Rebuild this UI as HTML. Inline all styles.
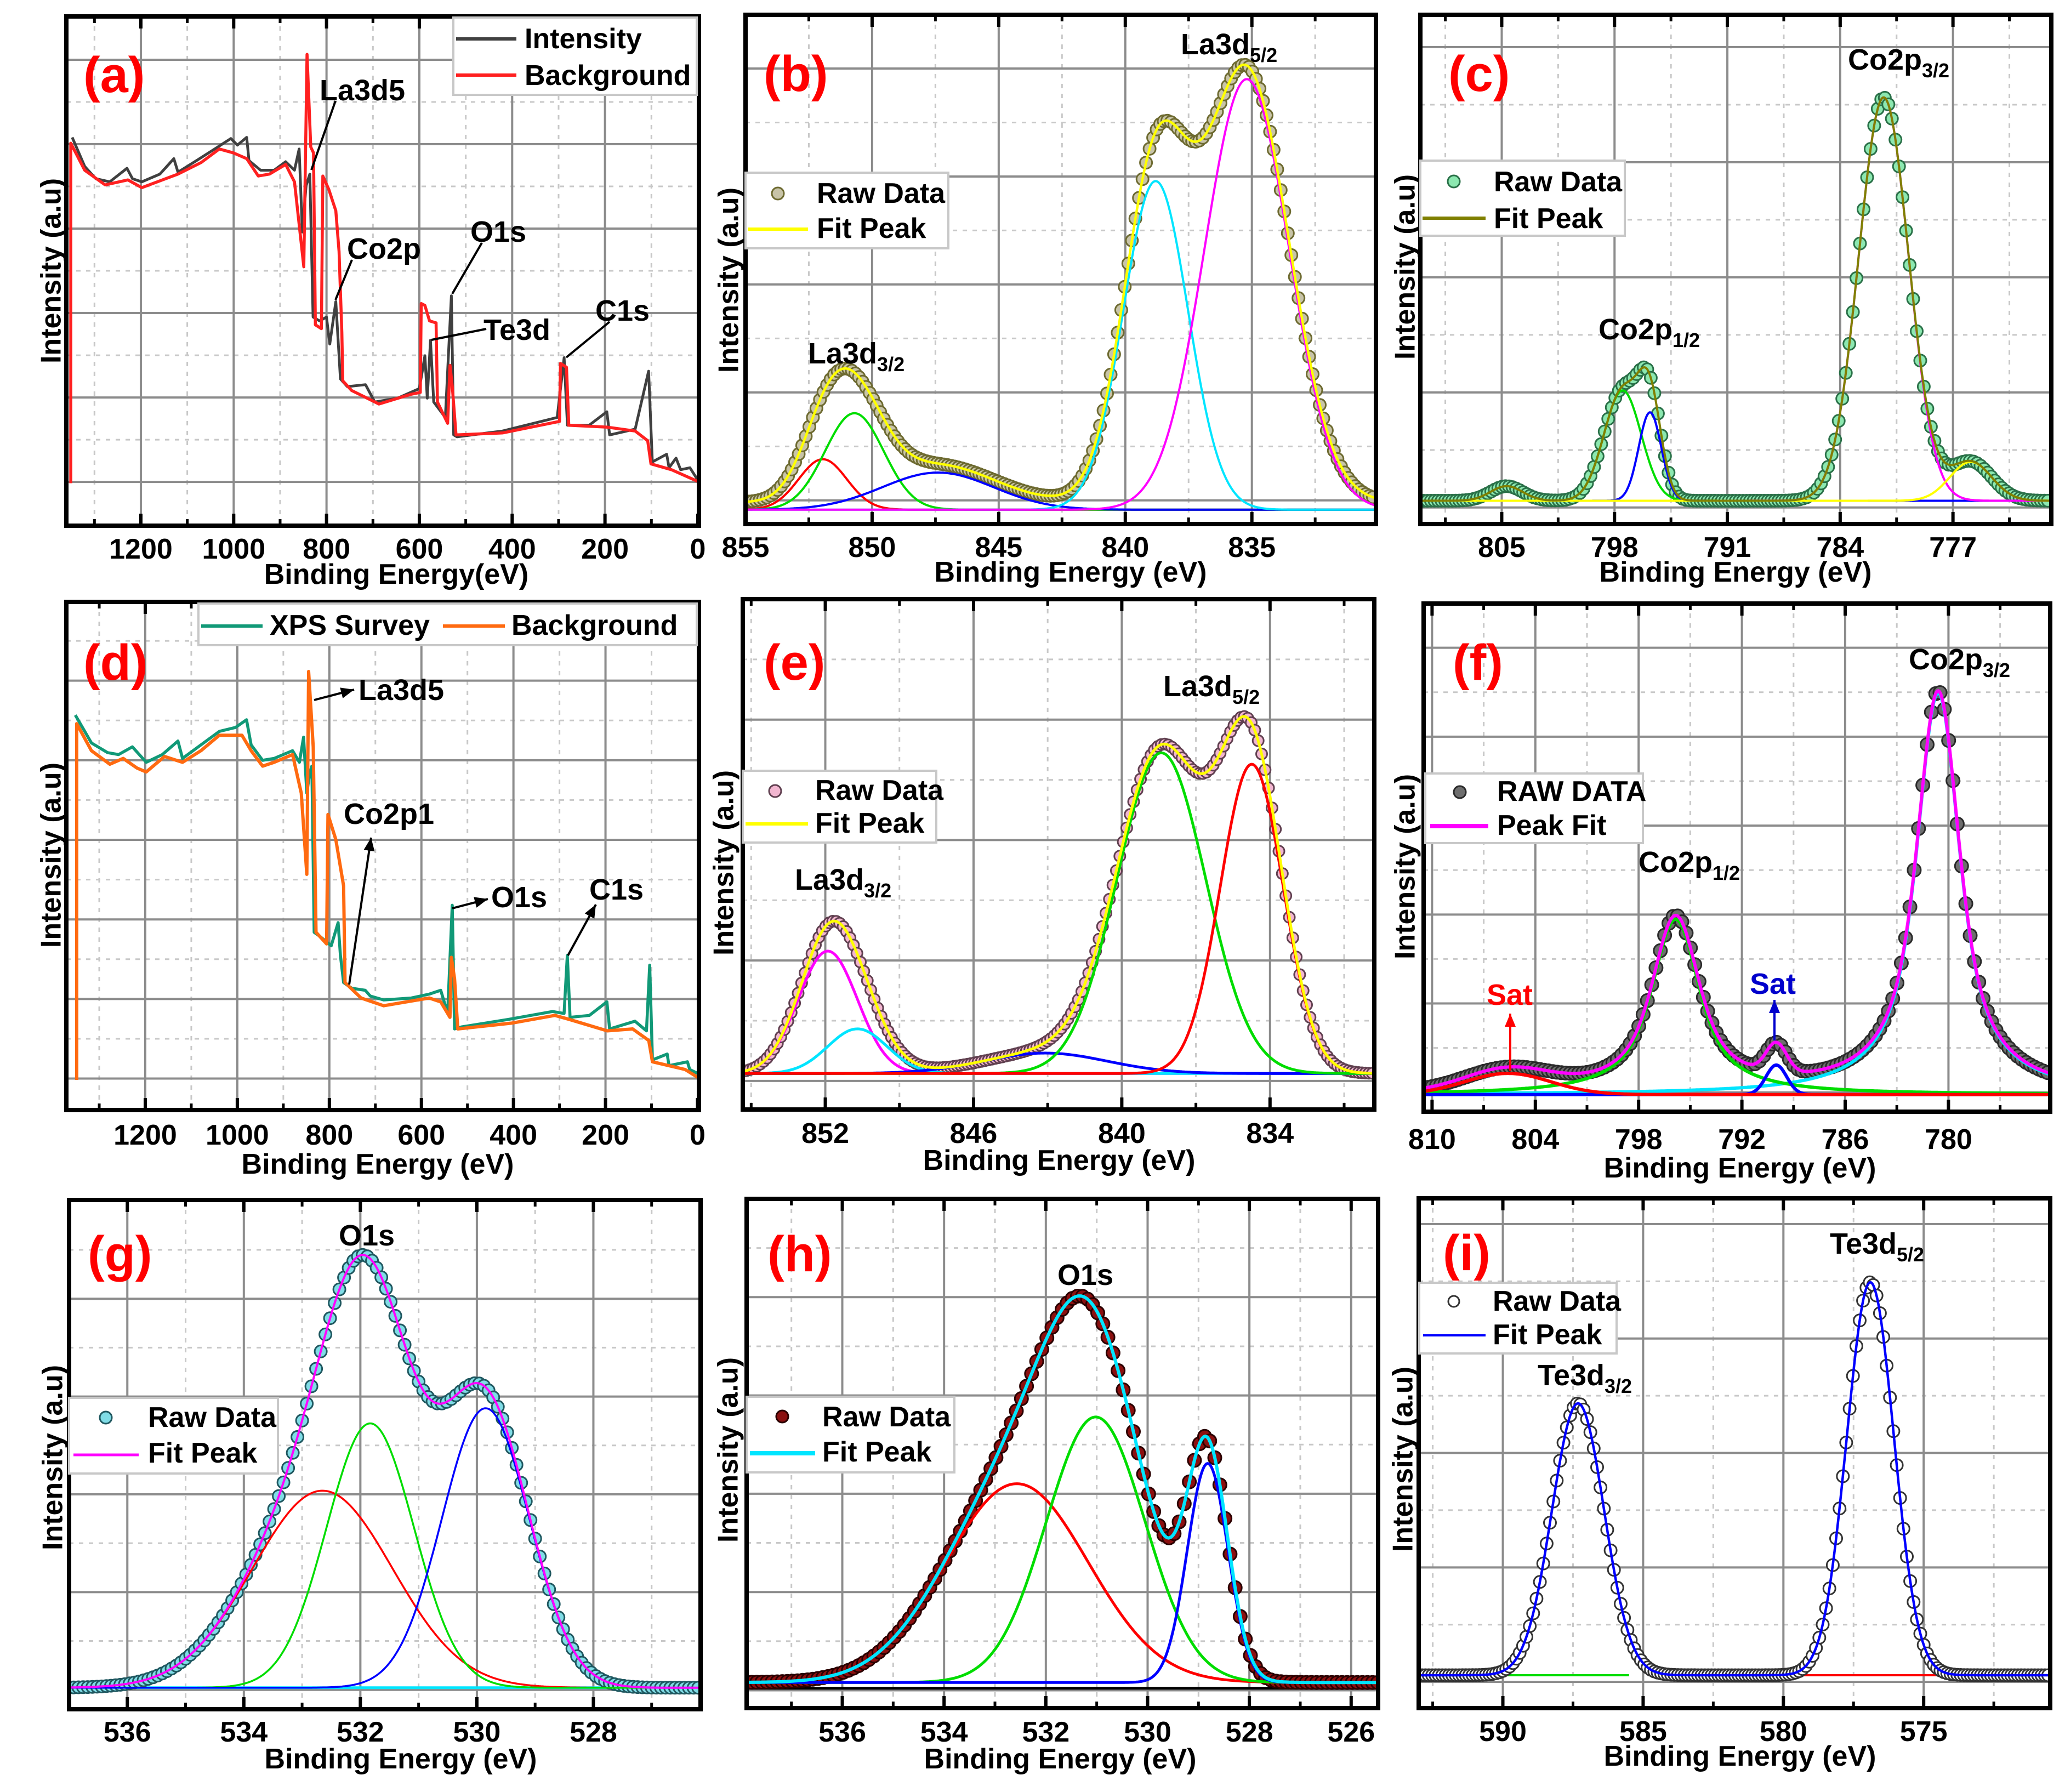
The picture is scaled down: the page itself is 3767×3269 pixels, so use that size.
<!DOCTYPE html>
<html><head><meta charset="utf-8">
<style>
html,body{margin:0;padding:0;background:#fff}
svg{display:block}
text{font-family:"Liberation Sans",Arial,sans-serif;font-weight:bold;fill:#000}
</style></head>
<body>
<svg id="fig" xmlns="http://www.w3.org/2000/svg" width="3767" height="3269" viewBox="0 0 3767 3269">
<rect width="3767" height="3269" fill="#ffffff"/>
</svg>
<script>
// ---------------- DATA ----------------
// Panel (a) survey
const aEnergy=[1348,1321,1297,1267,1230,1218,1198,1159,1129,1120,1080,1041,1006,992,972,967,942,913,888,869,859,852,844,836,829,815,800,793,780,770,755,716,696,647,600,588,583,576,569,544,531,526,519,421,303,288,281,234,196,190,135,106,98,67,62,47,37,17,1];
const aIntensity=[1005,930,898,890,925,898,890,910,950,915,945,975,1002,985,1005,945,920,920,942,920,975,760,880,910,540,530,540,470,580,380,360,365,320,330,355,440,330,480,320,280,595,235,230,245,280,435,260,260,295,235,250,400,165,185,150,175,145,150,120];
const aBgEnergy=[1351,1351,1321,1277,1228,1198,1120,1070,1031,1001,972,947,923,888,869,849,842,834,828,824,811,808,795,780,773,767,765,746,687,618,598,596,588,578,564,561,539,534,529,521,421,298,296,283,278,194,135,108,101,57,1];
const aBgIntensity=[110,990,920,882,895,875,910,940,975,965,950,905,910,935,890,670,1220,980,965,520,510,905,870,815,710,500,375,350,315,340,345,575,570,530,525,320,265,415,360,235,240,270,420,410,260,255,245,220,160,145,115];
// Panel (d) survey
const dEnergy=[1352,1317,1282,1258,1228,1198,1163,1129,1119,1079,1039,1004,980,970,945,920,880,865,856,849,843,838,833,821,796,781,776,769,751,722,711,682,622,583,558,543,533,528,513,409,315,290,283,277,235,197,191,136,111,104,98,66,62,22,17,0];
const dIntensity=[1022,950,925,920,940,900,920,955,910,945,980,990,1010,945,905,910,930,900,965,820,870,890,460,450,425,485,400,330,315,310,295,285,290,300,310,250,530,210,215,235,255,250,400,240,245,280,210,230,205,375,130,145,115,125,105,95];
const dBgEnergy=[1349,1349,1317,1277,1248,1218,1198,1158,1119,1079,1039,990,970,945,920,880,861,849,845,835,829,806,803,786,769,766,731,682,583,558,538,535,528,521,404,310,280,196,141,106,98,27,0];
const dBgIntensity=[78,1000,930,895,910,885,875,915,900,930,970,970,930,890,900,920,820,610,1135,940,460,430,765,700,580,330,290,270,290,280,240,395,340,210,225,245,235,205,210,180,125,105,85];
const surveyTicks=[1200,1000,800,600,400,200,0];
const surveyTickLabels=['1200','1000','800','600','400','200','0'];

// Panel (b) La3d
const bCenters=[851.95,850.7,847.4,838.8,835.2];
const bHeights=[10.2,19.5,7.5,66.4,87];
const bWidths=[0.95,1.16,2.2,1.28,1.67];
const bTicks=[855,850,845,840,835];
const bTickLabels=['855','850','845','840','835'];
// Panel (c) Co2p
const cCenters=[797.5,795.8,781.3,775.9,804.7];
const cHeights=[22.7,18.2,83,8,3];
const cWidths=[1.15,0.7,1.55,1.3,1.0];
const cTicks=[805,798,791,784,777];
const cTickLabels=['805','798','791','784','777'];
// Panel (e) La3d
const eCenters=[851.9,850.7,843.1,838.4,834.74];
const eHeights=[25.8,9.4,4.3,67.6,65.2];
const eWidths=[1.2,1.2,2.5,1.8,1.27];
const eTicks=[852,846,840,834];
const eTickLabels=['852','846','840','834'];
// Panel (f) Co2p (pseudo-Voigt)
const fCenters=[780.6,795.85,790.0,805.6];
const fHeights=[81.8,35.7,6,4.3];
const fWidths=[1.0,1.1,0.6,2.5];
const fGammas=[1.8,2.0,0.5,1];
const fEtas=[0.7,0.7,0,0];
const fTicks=[810,804,798,792,786,780];
const fTickLabels=['810','804','798','792','786','780'];
// Panel (g) O1s
const gCenters=[532.65,531.83,529.85];
const gHeights=[40.4,54.2,57.3];
const gWidths=[1.2,0.75,0.75];
const gTicks=[536,534,532,530,528];
const gTickLabels=['536','534','532','530','528'];
// Panel (h) O1s
const hCenters=[532.57,531.02,528.82];
const hHeights=[41.1,54.9,45.3];
const hWidths=[1.4,0.97,0.40];
const hTicks=[536,534,532,530,528,526];
const hTickLabels=['536','534','532','530','528','526'];
// Panel (i) Te3d
const iCenters=[587.32,576.90];
const iHeights=[57,82.4];
const iWidths=[0.93,0.84];
const iTicks=[590,585,580,575];
const iTickLabels=['590','585','580','575'];

// ---------------- RENDER ----------------
const NS='http://www.w3.org/2000/svg';
const svg=document.getElementById('fig');
function mk(tag,attrs,parent){const e=document.createElementNS(NS,tag);for(const k in attrs)e.setAttribute(k,attrs[k]);(parent||svg).appendChild(e);return e;}
function gauss(x,c,h,s){return h*Math.exp(-(x-c)*(x-c)/(2*s*s));}
let clipId=0;

function axes(p){
  const g=mk('g',{});
  
  
  const W=p.R-p.L,H=p.B-p.T;
  const sx=v=>p.L+(v-p.x0)/(p.x1-p.x0)*W;
  const sy=v=>p.B-(v-p.y0)/(p.y1-p.y0)*H;
  const grid=mk('g',{},g);
  
  
  const d=p.ticks[1]-p.ticks[0];
  const minors=[];
  for(let i=-1;i<p.ticks.length;i++){minors.push(p.ticks[0]+(i+0.5)*d);}
  minors.forEach(v=>{const x=sx(v);if(x>p.L+4&&x<p.R-4){
    const ln=mk('line',{x1:x,x2:x,y1:p.T,y2:p.B,stroke:'#c8c8c8','stroke-width':3,'stroke-dasharray':'8 10'},grid);
    
    }});
  for(let k=-1;k<12;k++){const y=p.T+(p.off-p.step/2+k*p.step)*H;if(y>p.T+4&&y<p.B-4){
    const ln=mk('line',{x1:p.L,x2:p.R,y1:y,y2:y,stroke:'#c8c8c8','stroke-width':3,'stroke-dasharray':'8 10'},grid);
    
    }}
  p.ticks.forEach(v=>{const x=sx(v);if(x>p.L+4&&x<p.R-4){
    const ln=mk('line',{x1:x,x2:x,y1:p.T,y2:p.B,stroke:'#8c8c8c','stroke-width':4},grid);
    
    }});
  for(let k=0;k<12;k++){const y=p.T+(p.off+k*p.step)*H;if(y>p.T+4&&y<p.B-4){
    const ln=mk('line',{x1:p.L,x2:p.R,y1:y,y2:y,stroke:'#8c8c8c','stroke-width':4},grid);
    
    }}
  const cid='clip'+(clipId++);
  const cp=mk('clipPath',{id:cid},g);
  mk('rect',{x:p.L,y:p.T,width:W,height:H},cp);
  const plot=mk('g',{'clip-path':'url(#'+cid+')'},g);
  
  
  const fr=mk('g',{},g);
  p.ticks.forEach(v=>{const x=sx(v);if(x>=p.L-1&&x<=p.R+1){
    const t1=mk('line',{x1:x,x2:x,y1:p.B,y2:p.B-22,stroke:'#000','stroke-width':6},fr);
    
    
    const t2=mk('line',{x1:x,x2:x,y1:p.T,y2:p.T+22,stroke:'#000','stroke-width':6},fr);
    
    }});
  minors.forEach(v=>{const x=sx(v);if(x>p.L+4&&x<p.R-4){
    const t1=mk('line',{x1:x,x2:x,y1:p.B,y2:p.B-12,stroke:'#000','stroke-width':5},fr);
    
    
    const t2=mk('line',{x1:x,x2:x,y1:p.T,y2:p.T+12,stroke:'#000','stroke-width':5},fr);
    
    }});
  const rect=mk('rect',{x:p.L,y:p.T,width:W,height:H,fill:'none',stroke:'#000','stroke-width':8},fr);
  
  
  p.ticks.forEach((v,i)=>{
    const t=mk('text',{x:sx(v),y:p.tickY,'text-anchor':'middle','font-size':52},g);
    t.textContent=p.tickLabels[i];
    
    });
  const xt=mk('text',{x:p.titleX,y:p.titleY,'text-anchor':'middle','font-size':52},g);
  xt.textContent=p.xTitle;
  
  
  const yt=mk('text',{x:0,y:0,dy:'0.36em','text-anchor':'middle','font-size':52,transform:'translate('+p.ylx+','+p.yly+') rotate(-90)'},g);
  yt.textContent='Intensity (a.u)';
  
  
  const pl=mk('text',{x:p.lx,y:p.ly,'font-size':92,style:'fill:#ff0000'},g);
  pl.textContent=p.letter;
  
  
  return {g,plot,sx,sy,p};
}
function pathD(xs,ys,sx,sy){return xs.map((x,i)=>(i?'L':'M')+sx(x).toFixed(1)+' '+sy(ys[i]).toFixed(1)).join(' ');}
function curve(ax,xs,ys,color,w,name){
  const e=mk('path',{d:pathD(xs,ys,ax.sx,ax.sy),fill:'none',stroke:color,'stroke-width':w,'stroke-linejoin':'round'},ax.plot);
  
  
  return e;
}
function samples(p,n){const a=[];for(let i=0;i<=n;i++)a.push(p.x0+(p.x1-p.x0)*i/n);return a;}
function peakLabel(parent,x,y,main,sub,name,color){
  const t=mk('text',{x:x,y:y,'font-size':54,style:'fill:'+(color||'#000')},parent);
  
  
  const s1=mk('tspan',{},t);s1.textContent=main;
  if(sub){const s2=mk('tspan',{dy:14,'font-size':36},t);s2.textContent=sub;}
  return t;
}
function legend(parent,bx,by,bw,bh,items,name){
  const lg=mk('g',{},parent);
  
  
  mk('rect',{x:bx,y:by,width:bw,height:bh,fill:'#fff',stroke:'#c8c8c8','stroke-width':4},lg);
  items.forEach(it=>{
    if(it.type==='line'){
      const l=mk('line',{x1:it.x1,x2:it.x2,y1:it.y,y2:it.y,stroke:it.color,'stroke-width':it.w||6},lg);
      
      
    }else{
      const c=mk('circle',{cx:it.x1,cy:it.y,r:it.r||11,fill:it.fill,stroke:it.stroke,'stroke-width':3},lg);
      
      
    }
    const t=mk('text',{x:it.tx,y:it.ty,'font-size':52},lg);
    t.textContent=it.text;
    
    
  });
}
function leader(parent,x1,y1,x2,y2,arrow,color){
  const c=color||'#000';
  const l=mk('line',{x1:x1,y1:y1,x2:x2,y2:y2,stroke:c,'stroke-width':4},parent);
  
  
  if(arrow){
    const a=Math.atan2(y2-y1,x2-x1),L=24,Wd=10;
    const p1=[x2-L*Math.cos(a)+Wd*Math.sin(a),y2-L*Math.sin(a)-Wd*Math.cos(a)];
    const p2=[x2-L*Math.cos(a)-Wd*Math.sin(a),y2-L*Math.sin(a)+Wd*Math.cos(a)];
    const h=mk('polygon',{points:x2+','+y2+' '+p1.join(',')+' '+p2.join(','),fill:c},parent);
    
    
  }
}
function rawMarkers(ax,xs,ys,fill,stroke,r,name){
  const grp=mk('g',{},ax.plot);
  
  
  xs.forEach((x,i)=>{
    const c=mk('circle',{cx:ax.sx(x).toFixed(1),cy:ax.sy(ys[i]).toFixed(1),r:r,fill:fill,stroke:stroke,'stroke-width':3},grp);
    
    
  });
}
function sumAt(x,C,Hh,Wd,off){let s=off||0;for(let k=0;k<C.length;k++)s+=gauss(x,C[k],Hh[k],Wd[k]);return s;}
function stepSamples(p,st){const a=[];const dir=p.x1<p.x0?-1:1;for(let x=p.x0;dir>0?x<=p.x1:x>=p.x1;x+=dir*st)a.push(x);return a;}

// ===== Panel a =====
{
const ax=axes({id:'a',L:121,R:1275,T:30,B:959,x0:1360.6,x1:-2.4,y0:0,y1:1318,off:.085,step:.1658,
 ticks:surveyTicks,tickLabels:surveyTickLabels,tickY:1019,titleX:723,titleY:1065,xTitle:'Binding Energy(eV)',ylx:92,yly:494,letter:'(a)',lx:152,ly:168});
curve(ax,aEnergy,aIntensity,'#404040',5,'intensity-line');
curve(ax,aBgEnergy,aBgIntensity,'#ff2020',5.5,'background-line');
peakLabel(ax.g,583,183,'La3d5','','la3d5-label');leader(ax.g,612,184,568,310);
peakLabel(ax.g,633,472,'Co2p','','co2p-label');leader(ax.g,642,474,612,547);
peakLabel(ax.g,858,441,'O1s','','o1s-label');leader(ax.g,879,443,825,536);
peakLabel(ax.g,882,620,'Te3d','','te3d-label');leader(ax.g,887,600,787,620);
peakLabel(ax.g,1086,585,'C1s','','c1s-label');leader(ax.g,1112,587,1033,652);
legend(ax.g,827,32,444,141,[
 {type:'line',x1:832,x2:942,y:71,color:'#404040',tx:957,ty:88,text:'Intensity'},
 {type:'line',x1:832,x2:942,y:137,color:'#ff2020',tx:957,ty:155,text:'Background'}],'legend-a');
}
// ===== Panel d =====
{
const ax=axes({id:'d',L:121,R:1275,T:1098,B:2025,x0:1371.5,x1:-3,y0:0,y1:1315,off:.155,step:.1566,
 ticks:surveyTicks,tickLabels:surveyTickLabels,tickY:2088,titleX:689,titleY:2141,xTitle:'Binding Energy (eV)',ylx:92,yly:1560,letter:'(d)',lx:152,ly:1240});
curve(ax,dEnergy,dIntensity,'#119977',5.5,'xps-survey-line');
curve(ax,dBgEnergy,dBgIntensity,'#ff6a10',6,'background-line');
peakLabel(ax.g,654,1277,'La3d5','','la3d5-label');leader(ax.g,573,1277,646,1258,true);
peakLabel(ax.g,627,1503,'Co2p1','','co2p1-label');leader(ax.g,637,1796,677,1528,true);
peakLabel(ax.g,896,1655,'O1s','','o1s-label');leader(ax.g,825,1657,890,1640,true);
peakLabel(ax.g,1075,1641,'C1s','','c1s-label');leader(ax.g,1036,1743,1087,1650,true);
legend(ax.g,362,1101,909,76,[
 {type:'line',x1:367,x2:479,y:1142,color:'#119977',tx:492,ty:1158,text:'XPS Survey'},
 {type:'line',x1:808,x2:921,y:1142,color:'#ff6a10',tx:933,ty:1158,text:'Background'}],'legend-d');
}
// ===== Panel b =====
{
const p={id:'b',L:1360,R:2510,T:27,B:956,x0:855,x1:830.1,y0:-2.9,y1:100,off:.1055,step:.212,
 ticks:bTicks,tickLabels:bTickLabels,tickY:1016,titleX:1953,titleY:1061,xTitle:'Binding Energy (eV)',ylx:1328,yly:511,letter:'(b)',lx:1393,ly:166};
const ax=axes(p);const xs=samples(p,500);
const cols=['#ff0000','#00dd00','#0000ff','#00e5ff','#ff00ff'];
const rx=stepSamples(p,0.14);
rawMarkers(ax,rx,rx.map(x=>sumAt(x,bCenters,bHeights,bWidths,1.5)),'#c8c4a8','#6d6a30',11,'raw-data-b');
bCenters.forEach((c,k)=>curve(ax,xs,xs.map(x=>gauss(x,c,bHeights[k],bWidths[k])),cols[k],4,'component-b-'+k));
curve(ax,xs,xs.map(x=>sumAt(x,bCenters,bHeights,bWidths,1.5)),'#ffff00',4.5,'fit-peak-b');
peakLabel(ax.g,2154,99,'La3d','5/2','la3d52-label');
peakLabel(ax.g,1474,663,'La3d','3/2','la3d32-label');
legend(ax.g,1360,315,370,138,[
 {type:'marker',x1:1419,y:353,fill:'#c8c4a8',stroke:'#6d6a30',tx:1490,ty:370,text:'Raw Data'},
 {type:'line',x1:1364,x2:1474,y:418,color:'#ffff00',tx:1490,ty:434,text:'Fit Peak'}],'legend-b');
}
// ===== Panel c =====
{
const p={id:'c',L:2591,R:3742,T:27,B:956,x0:810.05,x1:770.9,y0:-4.8,y1:100,off:.0635,step:.226,
 ticks:cTicks,tickLabels:cTickLabels,tickY:1016,titleX:3166,titleY:1061,xTitle:'Binding Energy (eV)',ylx:2562,yly:487,letter:'(c)',lx:2642,ly:166};
const ax=axes(p);const xs=samples(p,600);
const cols=['#00dd00','#0000ff','#ff00ff','#ffff00'];
const rx=stepSamples(p,0.22);
rawMarkers(ax,rx,rx.map(x=>sumAt(x,cCenters,cHeights,cWidths)),'#8ce8b0','#2a7048',11,'raw-data-c');
for(let k=0;k<4;k++)curve(ax,xs,xs.map(x=>gauss(x,cCenters[k],cHeights[k],cWidths[k])),cols[k],4,'component-c-'+k);
curve(ax,xs,xs.map(x=>sumAt(x,cCenters,cHeights,cWidths)),'#808000',4,'fit-peak-c');
peakLabel(ax.g,3371,127,'Co2p','3/2','co2p32-label');
peakLabel(ax.g,2916,619,'Co2p','1/2','co2p12-label');
legend(ax.g,2591,293,373,137,[
 {type:'marker',x1:2652,y:331,fill:'#8ce8b0',stroke:'#2a7048',tx:2725,ty:349,text:'Raw Data'},
 {type:'line',x1:2595,x2:2710,y:398,color:'#808000',tx:2725,ty:416,text:'Fit Peak'}],'legend-c');
}
// ===== Panel e =====
{
const p={id:'e',L:1355,R:2507,T:1093,B:2024,x0:855.34,x1:829.78,y0:-7.6,y1:100,off:.236,step:.236,
 ticks:eTicks,tickLabels:eTickLabels,tickY:2085,titleX:1932,titleY:2134,xTitle:'Binding Energy (eV)',ylx:1319,yly:1574,letter:'(e)',lx:1393,ly:1240};
const ax=axes(p);const xs=samples(p,500);
const cols=['#ff00ff','#00e5ff','#0000ff','#00dd00','#ff0000'];
const rx=stepSamples(p,0.14);
rawMarkers(ax,rx,rx.map(x=>sumAt(x,eCenters,eHeights,eWidths)),'#f2b6d0','#604050',10,'raw-data-e');
eCenters.forEach((c,k)=>curve(ax,xs,xs.map(x=>gauss(x,c,eHeights[k],eWidths[k])),cols[k],5,'component-e-'+k));
curve(ax,xs,xs.map(x=>sumAt(x,eCenters,eHeights,eWidths)),'#ffff00',5,'fit-peak-e');
peakLabel(ax.g,2122,1270,'La3d','5/2','la3d52-label');
peakLabel(ax.g,1450,1623,'La3d','3/2','la3d32-label');
legend(ax.g,1355,1406,353,131,[
 {type:'marker',x1:1414,y:1443,fill:'#f2b6d0',stroke:'#604050',tx:1487,ty:1459,text:'Raw Data'},
 {type:'line',x1:1360,x2:1474,y:1503,color:'#ffff00',tx:1487,ty:1519,text:'Fit Peak'}],'legend-e');
}
// ===== Panel f =====
{
const p={id:'f',L:2597,R:3740,T:1101,B:2028,x0:810.49,x1:774.09,y0:-3.5,y1:100,off:.087,step:.175,
 ticks:fTicks,tickLabels:fTickLabels,tickY:2096,titleX:3174,titleY:2148,xTitle:'Binding Energy (eV)',ylx:2562,yly:1581,letter:'(f)',lx:2650,ly:1240};
const ax=axes(p);const xs=samples(p,700);
const pv=(x,k)=>{const dx=x-fCenters[k];return fHeights[k]*((1-fEtas[k])*Math.exp(-(dx*dx)/(2*fWidths[k]*fWidths[k]))+fEtas[k]/(1+(dx/fGammas[k])*(dx/fGammas[k])));};
const fsum=x=>{let s=0;for(let k=0;k<fCenters.length;k++)s+=pv(x,k);return s;};
const cols=['#00e5ff','#00dd00','#0000ff','#ff0000'];
const rx=stepSamples(p,0.25);
rawMarkers(ax,rx,rx.map(fsum),'#6e6e6e','#2a2a2a',12,'raw-data-f');
for(let k=0;k<4;k++)curve(ax,xs,xs.map(x=>pv(x,k)),cols[k],6,'component-f-'+k);
curve(ax,xs,xs.map(fsum),'#ff00ff',6,'peak-fit-f');
peakLabel(ax.g,3482,1221,'Co2p','3/2','co2p32-label');
peakLabel(ax.g,2989,1591,'Co2p','1/2','co2p12-label');
peakLabel(ax.g,2712,1833,'Sat','','sat-red-label','#ff0000');leader(ax.g,2755,1954,2755,1849,true,'#ff0000');
peakLabel(ax.g,3192,1813,'Sat','','sat-blue-label','#0000cc');leader(ax.g,3237,1898,3237,1824,true,'#0000cc');
legend(ax.g,2600,1411,397,127,[
 {type:'marker',x1:2663,y:1445,fill:'#6e6e6e',stroke:'#2a2a2a',tx:2731,ty:1461,text:'RAW DATA'},
 {type:'line',x1:2609,x2:2715,y:1507,color:'#ff00ff',w:8,tx:2731,ty:1523,text:'Peak Fit'}],'legend-f');
}
// ===== Panel g =====
{
const p={id:'g',L:126,R:1278,T:2189,B:3118,x0:537,x1:526.16,y0:-4.4,y1:100,off:.194,step:.192,
 ticks:gTicks,tickLabels:gTickLabels,tickY:3177,titleX:731,titleY:3226,xTitle:'Binding Energy (eV)',ylx:95,yly:2659,letter:'(g)',lx:160,ly:2319};
const ax=axes(p);const xs=samples(p,500);
const cols=['#ff0000','#00dd00','#0000ff'];
curve(ax,[p.x0,p.x1],[0,0],'#00e5ff',5,'baseline-g');
const rx=stepSamples(p,0.08);
rawMarkers(ax,rx,rx.map(x=>sumAt(x,gCenters,gHeights,gWidths)),'#80dce6','#205860',11,'raw-data-g');
gCenters.forEach((c,k)=>curve(ax,xs,xs.map(x=>gauss(x,c,gHeights[k],gWidths[k])),cols[k],3.5,'component-g-'+k));
curve(ax,xs,xs.map(x=>sumAt(x,gCenters,gHeights,gWidths)),'#ff00ff',4,'fit-peak-g');
peakLabel(ax.g,618,2272,'O1s','','o1s-label');
legend(ax.g,126,2550,381,138,[
 {type:'marker',x1:193,y:2586,fill:'#80dce6',stroke:'#205860',tx:270,ty:2603,text:'Raw Data'},
 {type:'line',x1:134,x2:253,y:2654,color:'#ff00ff',w:5,tx:270,ty:2668,text:'Fit Peak'}],'legend-g');
}
// ===== Panel h =====
{
const p={id:'h',L:1362,R:2514,T:2187,B:3116,x0:537.88,x1:525.47,y0:-5.3,y1:100,off:.193,step:.193,
 ticks:hTicks,tickLabels:hTickLabels,tickY:3177,titleX:1934,titleY:3226,xTitle:'Binding Energy (eV)',ylx:1327,yly:2645,letter:'(h)',lx:1400,ly:2319};
const ax=axes(p);const xs=samples(p,500);
const cols=['#ff0000','#00dd00','#0000ff'];
curve(ax,[p.x0,p.x1],[-1.2,-1.2],'#000000',5,'zero-line-h');
const rx=stepSamples(p,0.1);
rawMarkers(ax,rx,rx.map(x=>sumAt(x,hCenters,hHeights,hWidths)),'#8b1010','#2a0000',12,'raw-data-h');
hCenters.forEach((c,k)=>curve(ax,xs,xs.map(x=>gauss(x,c,hHeights[k],hWidths[k])),cols[k],5,'component-h-'+k));
curve(ax,xs,xs.map(x=>sumAt(x,hCenters,hHeights,hWidths)),'#00e5ff',6,'fit-peak-h');
peakLabel(ax.g,1929,2344,'O1s','','o1s-label');
legend(ax.g,1362,2548,379,138,[
 {type:'marker',x1:1427,y:2584,fill:'#8b1010',stroke:'#2a0000',tx:1500,ty:2602,text:'Raw Data'},
 {type:'line',x1:1368,x2:1487,y:2651,color:'#00e5ff',w:8,tx:1500,ty:2666,text:'Fit Peak'}],'legend-h');
}
// ===== Panel i =====
{
const p={id:'i',L:2588,R:3740,T:2186,B:3116,x0:593,x1:570.49,y0:-6.9,y1:100,off:.0505,step:.2245,
 ticks:iTicks,tickLabels:iTickLabels,tickY:3176,titleX:3174,titleY:3221,xTitle:'Binding Energy (eV)',ylx:2558,yly:2662,letter:'(i)',lx:2632,ly:2317};
const ax=axes(p);const xs=samples(p,500);
curve(ax,[593,585.5],[0,0],'#00dd00',4,'baseline-green-i');
curve(ax,[580,574],[0,0],'#ff0000',4,'baseline-red-i');
const rx=stepSamples(p,0.12);
rawMarkers(ax,rx,rx.map(x=>sumAt(x,iCenters,iHeights,iWidths)),'#ffffff','#333333',11,'raw-data-i');
curve(ax,xs,xs.map(x=>sumAt(x,iCenters,iHeights,iWidths)),'#0000ff',4.5,'fit-peak-i');
peakLabel(ax.g,3338,2287,'Te3d','5/2','te3d52-label');
peakLabel(ax.g,2805,2527,'Te3d','3/2','te3d32-label');
legend(ax.g,2589,2340,360,129,[
 {type:'marker',x1:2652,y:2374,fill:'#ffffff',stroke:'#333333',r:10,tx:2723,ty:2391,text:'Raw Data'},
 {type:'line',x1:2596,x2:2710,y:2436,color:'#0000ff',w:4,tx:2723,ty:2452,text:'Fit Peak'}],'legend-i');
}
</script>
</body></html>
